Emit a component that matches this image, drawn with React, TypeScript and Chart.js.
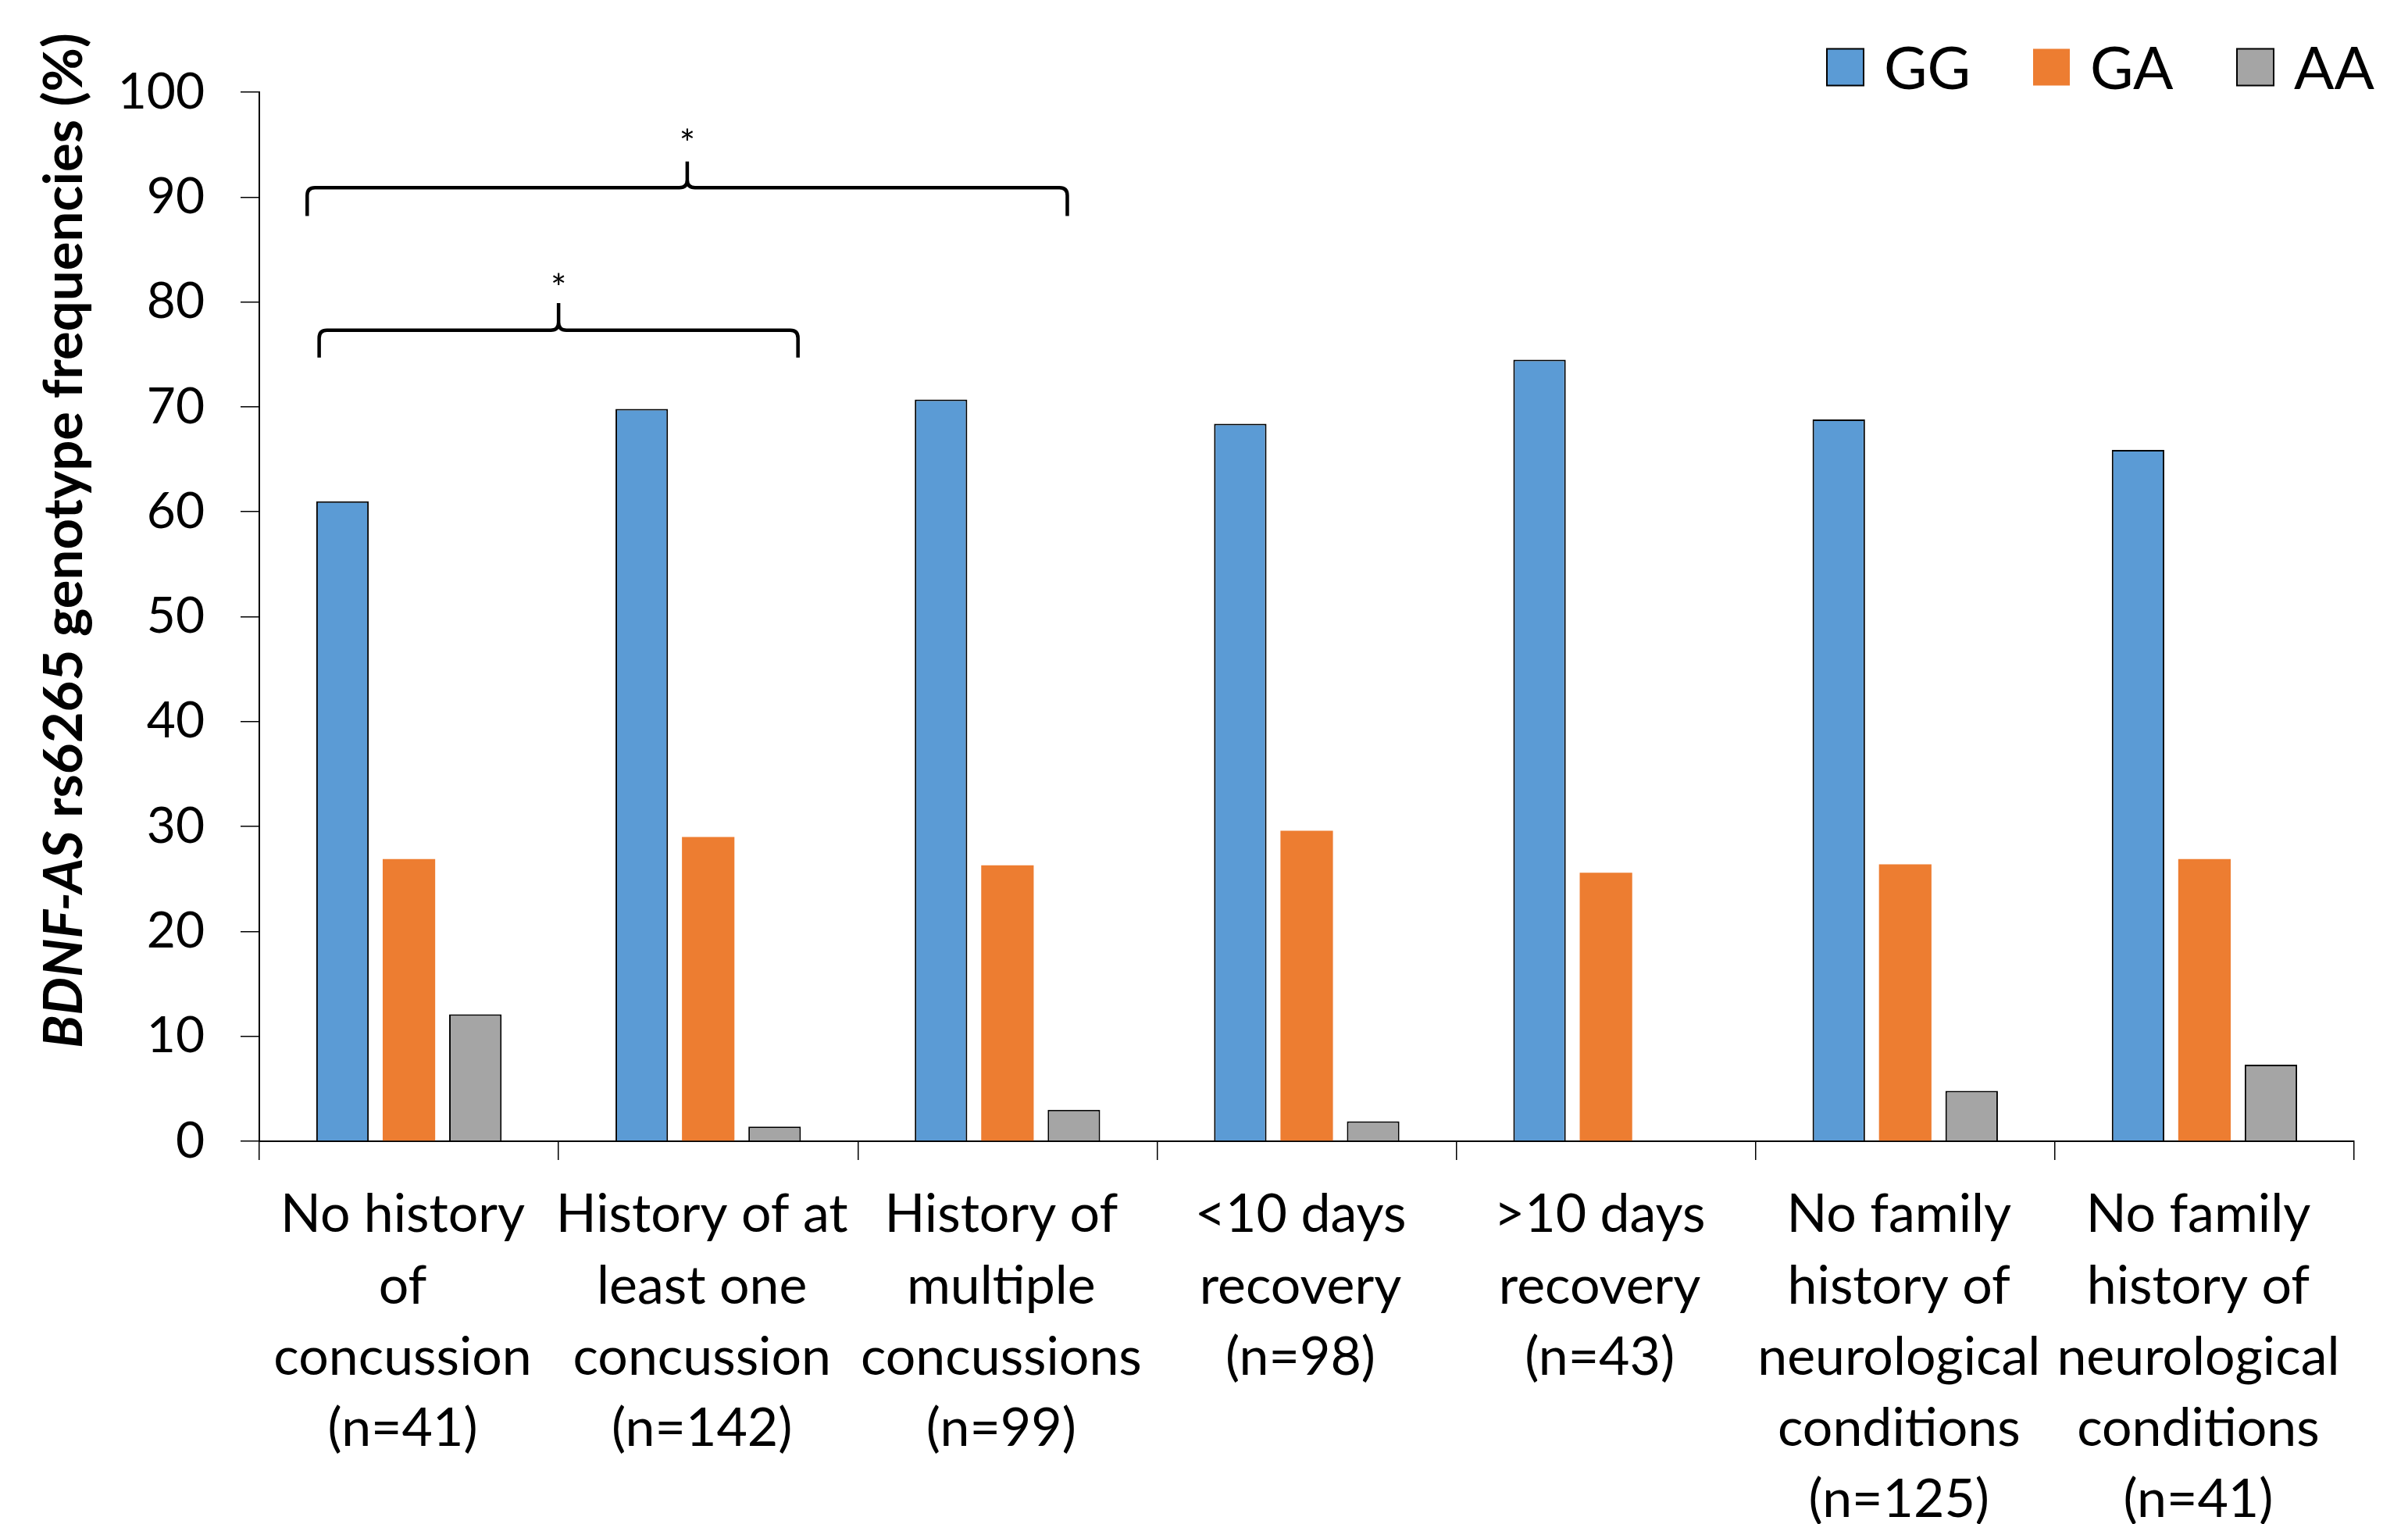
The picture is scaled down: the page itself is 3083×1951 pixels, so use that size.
import { useEffect, useRef } from "react";
import { Chart, registerables } from "chart.js";

Chart.register(...registerables);

// ---------- data ----------
const categories: string[][] = [
  ["No history", "of", "concussion", "(n=41)"],
  ["History of at", "least one", "concussion", "(n=142)"],
  ["History of", "multiple", "concussions", "(n=99)"],
  ["<10 days", "recovery", "(n=98)"],
  [">10 days", "recovery", "(n=43)"],
  ["No family", "history of", "neurological", "conditions", "(n=125)"],
  ["No family", "history of", "neurological", "conditions", "(n=41)"],
];
const seriesNames = ["GG", "GA", "AA"];
const ggValues = [61.0, 69.8, 70.7, 68.4, 74.5, 68.8, 65.9];
const gaValues = [26.9, 29.0, 26.3, 29.6, 25.6, 26.4, 26.9];
const aaValues = [12.1, 1.4, 3.0, 1.9, 0, 4.8, 7.3];
const yMin = 0;
const yMax = 100;
const yStep = 10;
const yTitleItalic = "BDNF-AS";
const yTitleRest = " rs6265 genotype frequencies (%)";
// significance brackets (category-index units on x, value units on y)
const bracketFrom = [-0.34, -0.3];
const bracketTo = [2.2, 1.3];
const bracketTip = [0.93, 0.5];
const bracketLevel = [90.9, 77.3];
const bracketLegEnd = [88.2, 74.7];
const bracketTipTop = [93.4, 79.9];
const bracketStarAt = [96.0, 82.2];
const bracketLabel = ["*", "*"];

const FONT = "Lato";

const bracketPlugin = {
  id: "brackets",
  afterDatasetsDraw(chart: any) {
    const ctx = chart.ctx as CanvasRenderingContext2D;
    const xs = chart.scales.x;
    const ys = chart.scales.y;
    ctx.save();
    ctx.strokeStyle = "#000";
    ctx.lineWidth = 4.5;
    ctx.lineCap = "butt";
    ctx.lineJoin = "round";
    for (let i = 0; i < bracketFrom.length; i++) {
      const xL = xs.getPixelForValue(bracketFrom[i]);
      const xR = xs.getPixelForValue(bracketTo[i]);
      const xT = xs.getPixelForValue(bracketTip[i]);
      const yH = ys.getPixelForValue(bracketLevel[i]);
      const yLeg = ys.getPixelForValue(bracketLegEnd[i]);
      const yTip = ys.getPixelForValue(bracketTipTop[i]);
      const r = 10;
      ctx.beginPath();
      ctx.moveTo(xL, yLeg);
      ctx.lineTo(xL, yH + r);
      ctx.quadraticCurveTo(xL, yH, xL + r, yH);
      ctx.lineTo(xT - r, yH);
      ctx.quadraticCurveTo(xT, yH, xT, yH - r);
      ctx.lineTo(xT, yTip);
      ctx.moveTo(xR, yLeg);
      ctx.lineTo(xR, yH + r);
      ctx.quadraticCurveTo(xR, yH, xR - r, yH);
      ctx.lineTo(xT + r, yH);
      ctx.quadraticCurveTo(xT, yH, xT, yH - r);
      ctx.stroke();
      // star
      ctx.fillStyle = "#000";
      ctx.font = `48px ${FONT}`;
      ctx.textAlign = "center";
      ctx.textBaseline = "alphabetic";
      const m = ctx.measureText(bracketLabel[i]);
      const off = (m.actualBoundingBoxAscent - m.actualBoundingBoxDescent) / 2;
      ctx.fillText(bracketLabel[i], xT, ys.getPixelForValue(bracketStarAt[i]) + off);
    }
    ctx.restore();
  },
};

const decorPlugin = {
  id: "decor",
  afterDraw(chart: any) {
    const ctx = chart.ctx as CanvasRenderingContext2D;
    ctx.save();
    // ---- y-axis title (mixed italic / bold) ----
    let size = 74;
    ctx.font = `italic bold ${size}px ${FONT}`;
    let w1 = ctx.measureText(yTitleItalic).width;
    ctx.font = `bold ${size}px ${FONT}`;
    let w2 = ctx.measureText(yTitleRest).width;
    size = size * (1300 / (w1 + w2));
    ctx.font = `italic bold ${size}px ${FONT}`;
    w1 = ctx.measureText(yTitleItalic).width;
    ctx.font = `bold ${size}px ${FONT}`;
    w2 = ctx.measureText(yTitleRest).width;
    ctx.translate(105, 692);
    ctx.rotate(-Math.PI / 2);
    ctx.fillStyle = "#000";
    ctx.textAlign = "left";
    ctx.textBaseline = "alphabetic";
    const sx = -(w1 + w2) / 2;
    ctx.font = `italic bold ${size}px ${FONT}`;
    ctx.fillText(yTitleItalic, sx, 0);
    ctx.font = `bold ${size}px ${FONT}`;
    ctx.fillText(yTitleRest, sx + w1, 0);
    ctx.restore();

    // ---- legend ----
    ctx.save();
    const fs = 76;
    ctx.font = `${fs}px ${FONT}`;
    const box = 47;
    const gap = 26;
    // item left edges, measured back from the right edge of the canvas
    const itemFromRight = [744, 480, 219];
    const ds = chart.data.datasets;
    const cy = 86;
    const cap = ctx.measureText("G").actualBoundingBoxAscent;
    ds.forEach((d: any, i: number) => {
      const x = chart.width - itemFromRight[i];
      ctx.fillStyle = d.backgroundColor;
      ctx.fillRect(x, cy - box / 2, box, box);
      if (d.borderWidth > 0) {
        ctx.strokeStyle = d.borderColor;
        ctx.lineWidth = 2;
        ctx.strokeRect(x, cy - box / 2, box, box);
      }
      ctx.fillStyle = "#000";
      ctx.textAlign = "left";
      ctx.textBaseline = "alphabetic";
      ctx.fillText(d.label, x + box + gap, cy + cap / 2);
    });
    ctx.restore();
  },
};

export default function App() {
  const ref = useRef<HTMLCanvasElement | null>(null);
  useEffect(() => {
    if (!ref.current) return;
    Chart.defaults.color = "#000";
    Chart.defaults.font.family = FONT;
    const chart = new Chart(ref.current, {
      type: "bar",
      data: {
        labels: categories,
        datasets: [
          {
            label: seriesNames[0],
            data: ggValues,
            backgroundColor: "#5B9BD5",
            borderColor: "#000",
            borderWidth: 2,
          },
          {
            label: seriesNames[1],
            data: gaValues,
            backgroundColor: "#ED7D31",
            borderColor: "#ED7D31",
            borderWidth: 0,
          },
          {
            label: seriesNames[2],
            data: aaValues,
            backgroundColor: "#A5A5A5",
            borderColor: "#000",
            borderWidth: 2,
          },
        ],
      },
      options: {
        responsive: false,
        animation: false,
        devicePixelRatio: 1,
        categoryPercentage: 0.666,
        barPercentage: 0.79,
        layout: { padding: { top: 118, right: 69, left: 0, bottom: 0 } },
        plugins: {
          legend: { display: false },
          tooltip: { enabled: false },
          title: { display: false },
        },
        scales: {
          x: {
            offset: true,
            grid: {
              display: true,
              offset: true,
              drawOnChartArea: false,
              drawTicks: true,
              tickLength: 24,
              color: "#000",
              lineWidth: 1.5,
            },
            border: { display: true, color: "#000", width: 2 },
            ticks: {
              color: "#000",
              font: { family: FONT, size: 68, lineHeight: 1.34 },
              padding: 25,
              labelOffset: -8,
              maxRotation: 0,
              minRotation: 0,
              autoSkip: false,
            },
            afterFit(scale: any) {
              scale.height = 490;
            },
          },
          y: {
            min: yMin,
            max: yMax,
            grid: {
              display: true,
              drawOnChartArea: false,
              drawTicks: true,
              tickLength: 24,
              color: "#000",
              lineWidth: 1.5,
            },
            border: { display: true, color: "#000", width: 2 },
            ticks: {
              stepSize: yStep,
              color: "#000",
              font: { family: FONT, size: 64 },
              padding: 46,
            },
            afterFit(scale: any) {
              scale.width = 332;
            },
          },
        },
      },
      plugins: [bracketPlugin, decorPlugin],
    } as any);
    return () => chart.destroy();
  }, []);
  return (
    <div
      style={{
        position: "fixed",
        left: 0,
        top: 0,
        width: 3083,
        height: 1951,
        background: "#fff",
      }}
    >
      <canvas ref={ref} width={3083} height={1951} style={{ width: 3083, height: 1951 }} />
    </div>
  );
}
